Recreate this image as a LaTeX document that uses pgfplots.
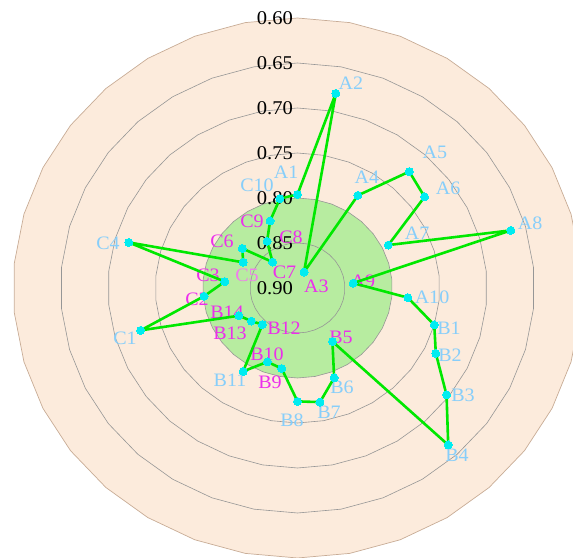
\documentclass[border=0pt]{standalone}
\usepackage{pgfplots}
\pgfplotsset{compat=1.18}
\usepackage{pgfplotstable}
\usepackage{fontspec}
\setmainfont{Liberation Serif}
\definecolor{peach}{RGB}{252,235,220}
\definecolor{ringbrd}{RGB}{200,172,150}
\definecolor{ringgray}{RGB}{150,150,150}
\definecolor{diskgreen}{RGB}{183,236,160}
\definecolor{lgreen}{RGB}{0,232,0}
\definecolor{pcyan}{RGB}{0,236,240}
\definecolor{lblue}{RGB}{135,206,250}
\definecolor{lmag}{RGB}{236,46,236}
\definecolor{lviol}{RGB}{240,125,236}
\tikzset{
  mylab/.style={font=\fontsize{19}{22}\selectfont, xscale=1.055, inner sep=0pt},
  mytick/.style={font=\fontsize{19.5}{22}\selectfont, xscale=1.055, inner sep=0pt, anchor=east, text=black},
}

% k = category index (clockwise from top, 34 categories), v = value
\pgfplotstableread{
k v
0 0.796
1 0.680
2 0.881
3 0.779
4 0.725
5 0.732
6 0.793
7 0.666
8 0.841
9 0.783
10 0.750
11 0.737
12 0.703
13 0.664
14 0.830
15 0.793
16 0.771
17 0.774
18 0.809
19 0.812
20 0.791
21 0.845
22 0.839
23 0.831
24 0.728
25 0.801
26 0.823
27 0.715
28 0.836
29 0.827
30 0.861
31 0.839
32 0.820
33 0.799
}\radar

\begin{document}
\begin{tikzpicture}
\useasboundingbox (0,0) rectangle (573pt,557pt);
\clip (0,0) rectangle (573pt,557pt);
\begin{axis}[
  at={(0,0)}, anchor=south west,
  scale only axis, width=573pt, height=557pt,
  hide axis, clip=false,
  xmin=-0.31382, xmax=0.29061,
  ymin=-0.29889, ymax=0.32,
]
% background disk (0.60) and green disk (0.80)
\fill[peach, draw=ringbrd, line width=0.7pt] plot[domain=0:360, samples=35, variable=\t] ({0.30*sin(\t)},{0.30*cos(\t)}) -- cycle;
\fill[diskgreen] plot[domain=0:360, samples=35, variable=\t] ({0.10*sin(\t)},{0.10*cos(\t)}) -- cycle;
\pgfplotsinvokeforeach{0.05,0.10,0.15,0.20,0.25}{
  \draw[ringgray, line width=0.6pt] plot[domain=0:360, samples=35, variable=\t] ({#1*sin(\t)},{#1*cos(\t)}) -- cycle;
}
% radial tick labels
\node[mytick] at (axis cs:-0.0047,0.30) {0.60};
\node[mytick] at (axis cs:-0.0047,0.25) {0.65};
\node[mytick] at (axis cs:-0.0047,0.20) {0.70};
\node[mytick] at (axis cs:-0.0047,0.15) {0.75};
\node[mytick] at (axis cs:-0.0047,0.10) {0.80};
\node[mytick] at (axis cs:-0.0047,0.05) {0.85};
\node[mytick] at (axis cs:-0.0047,0.00) {0.90};
% point labels
\node[mylab, text=lblue] at (axis cs:-0.0121,0.1289) {A1};
\node[mylab, text=lblue] at (axis cs:0.0564,0.2278) {A2};
\node[mylab, text=lmag]  at (axis cs:0.0200,0.0017) {A3};
\node[mylab, text=lblue] at (axis cs:0.0733,0.1233) {A4};
\node[mylab, text=lblue] at (axis cs:0.1450,0.1511) {A5};
\node[mylab, text=lblue] at (axis cs:0.1588,0.1111) {A6};
\node[mylab, text=lblue] at (axis cs:0.1261,0.0611) {A7};
\node[mylab, text=lblue] at (axis cs:0.2453,0.0722) {A8};
\node[mylab, text=lmag]  at (axis cs:0.0691,0.0078) {A9};
\node[mylab, text=lblue] at (axis cs:0.1419,-0.0100) {A10};
\node[mylab, text=lblue] at (axis cs:0.1598,-0.0444) {B1};
\node[mylab, text=lblue] at (axis cs:0.1609,-0.0744) {B2};
\node[mylab, text=lblue] at (axis cs:0.1746,-0.1189) {B3};
\node[mylab, text=lblue] at (axis cs:0.1683,-0.1856) {B4};
\node[mylab, text=lmag]  at (axis cs:0.0459,-0.0544) {B5};
\node[mylab, text=lblue] at (axis cs:0.0469,-0.1100) {B6};
\node[mylab, text=lblue] at (axis cs:0.0332,-0.1378) {B7};
\node[mylab, text=lblue] at (axis cs:-0.0058,-0.1467) {B8};
\node[mylab, text=lmag]  at (axis cs:-0.0290,-0.1044) {B9};
\node[mylab, text=lmag]  at (axis cs:-0.0322,-0.0733) {B10};
\node[mylab, text=lblue] at (axis cs:-0.0712,-0.1022) {B11};
\node[mylab, text=lmag]  at (axis cs:-0.0142,-0.0444) {B12};
\node[mylab, text=lmag]  at (axis cs:-0.0712,-0.0500) {B13};
\node[mylab, text=lmag]  at (axis cs:-0.0744,-0.0267) {B14};
\node[mylab, text=lblue] at (axis cs:-0.1820,-0.0556) {C1};
\node[mylab, text=lmag]  at (axis cs:-0.1060,-0.0122) {C2};
\node[mylab, text=lmag]  at (axis cs:-0.0944,0.0144) {C3};
\node[mylab, text=lblue] at (axis cs:-0.1999,0.0500) {C4};
\node[mylab, text=lviol] at (axis cs:-0.0533,0.0144) {C5};
\node[mylab, text=lmag]  at (axis cs:-0.0796,0.0522) {C6};
\node[mylab, text=lmag]  at (axis cs:-0.0137,0.0172) {C7};
\node[mylab, text=lmag]  at (axis cs:-0.0069,0.0567) {C8};
\node[mylab, text=lmag]  at (axis cs:-0.0480,0.0744) {C9};
\node[mylab, text=lblue] at (axis cs:-0.0427,0.1144) {C10};
% data line and points
\addplot[draw=lgreen, line width=2.6pt, line join=round, mark=none]
  table[x expr={(0.9-\thisrow{v})*sin(\thisrow{k}*360/34)}, y expr={(0.9-\thisrow{v})*cos(\thisrow{k}*360/34)}] {\radar} -- cycle;
\addplot[color=pcyan, only marks, mark=*, mark size=4pt, mark options={fill=pcyan, draw=pcyan, line width=0pt}]
  table[x expr={(0.9-\thisrow{v})*sin(\thisrow{k}*360/34)}, y expr={(0.9-\thisrow{v})*cos(\thisrow{k}*360/34)}] {\radar};
\end{axis}
\end{tikzpicture}
\end{document}
